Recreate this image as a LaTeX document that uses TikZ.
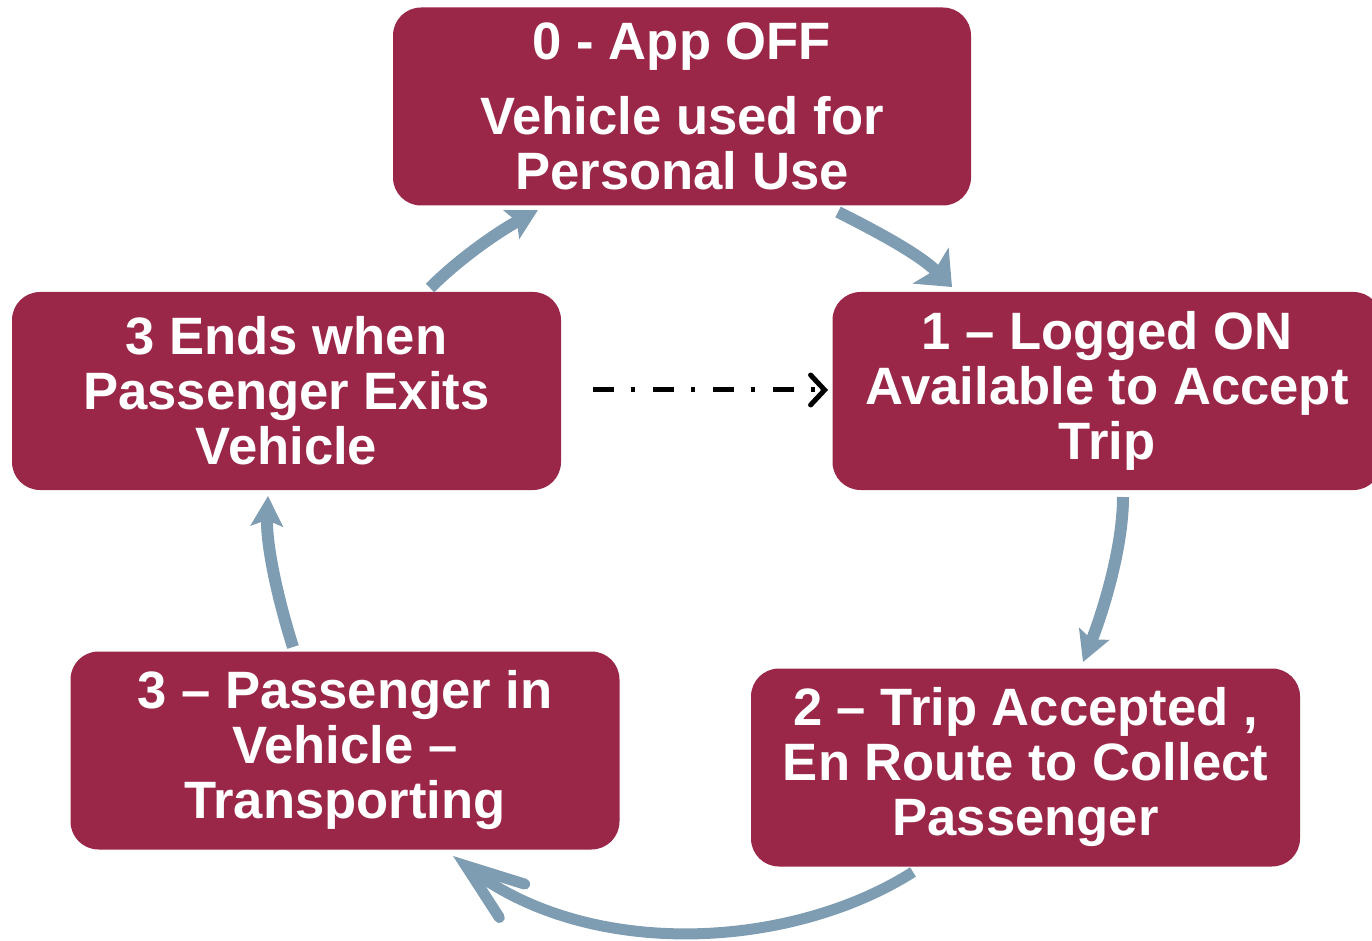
\documentclass[tikz,border=0pt]{standalone}
\usepackage{fontspec}
\setmainfont{Liberation Sans}
\usetikzlibrary{arrows.meta}
\definecolor{boxred}{RGB}{154,39,72}
\definecolor{arrowblue}{RGB}{127,157,178}
\tikzset{
  statebox/.style={draw=none, fill=boxred, rounded corners=14pt, text=white,
    font=\fontsize{26.3}{27.5}\selectfont\bfseries, align=center, inner sep=0pt,
    minimum width=274.5pt, minimum height=99pt},
  flow/.style={draw=arrowblue, line width=6pt,
    -{Stealth[length=15pt, width=16pt, inset=3pt]}},
  flowwide/.style={draw=arrowblue, line width=6pt,
    -{Stealth[length=15pt, width=25pt, inset=3pt]}},
  flowbarb/.style={draw=arrowblue, line width=5.5pt,
    -{Straight Barb[length=29pt, width=21pt, line cap=round]}},
  skip/.style={draw=black, line width=2.5pt,
    dash pattern=on 10.5pt off 8.5pt on 2pt off 9pt,
    -{Straight Barb[length=7pt, width=15pt, line cap=round]}}
}
\begin{document}
\begin{tikzpicture}[x=0.5pt,y=-0.5pt]
\useasboundingbox (0,0) rectangle (1372,941);
\node[statebox, minimum width=289pt] (b0) at (682,106.5)
  {0 - App OFF\\[10pt]Vehicle used for\\Personal Use};
\node[statebox] (b1) at (1107,391) {1 – Logged ON\\Available to Accept\\Trip};
\node[statebox] (b3e) at (286.5,391) {3 Ends when\\Passenger Exits\\Vehicle};
\node[statebox] (b2) at (1025.5,767.5) {2 – Trip Accepted ,\\En Route to Collect\\Passenger};
\node[statebox] (b3p) at (345,750.5) {3 – Passenger in\\Vehicle –\\Transporting};

\coordinate (s01) at (838,212);  \coordinate (t01) at (952,287);
\coordinate (s12) at (1123,497); \coordinate (t12) at (1083,662);
\coordinate (s23) at (913,872);  \coordinate (t23) at (453,856);
\coordinate (s34) at (293,647);  \coordinate (t34) at (268,496);
\coordinate (s40) at (430,288);  \coordinate (t40) at (538,210);
\coordinate (sd) at (593,390);   \coordinate (td) at (828,390);

\draw[flowwide] (s01) .. controls (878,232) and (920,255) .. (t01);
\draw[flow] (s12) .. controls (1123,550) and (1101,617) .. (t12);
\draw[flowbarb] (s23) .. controls (790,950) and (590,960) .. (t23);
\draw[flow] (s34) .. controls (278,600) and (266,545) .. (t34);
\draw[flow] (s40) .. controls (460,258) and (498,232) .. (t40);
\draw[skip] (sd) -- (td);
\end{tikzpicture}
\end{document}
